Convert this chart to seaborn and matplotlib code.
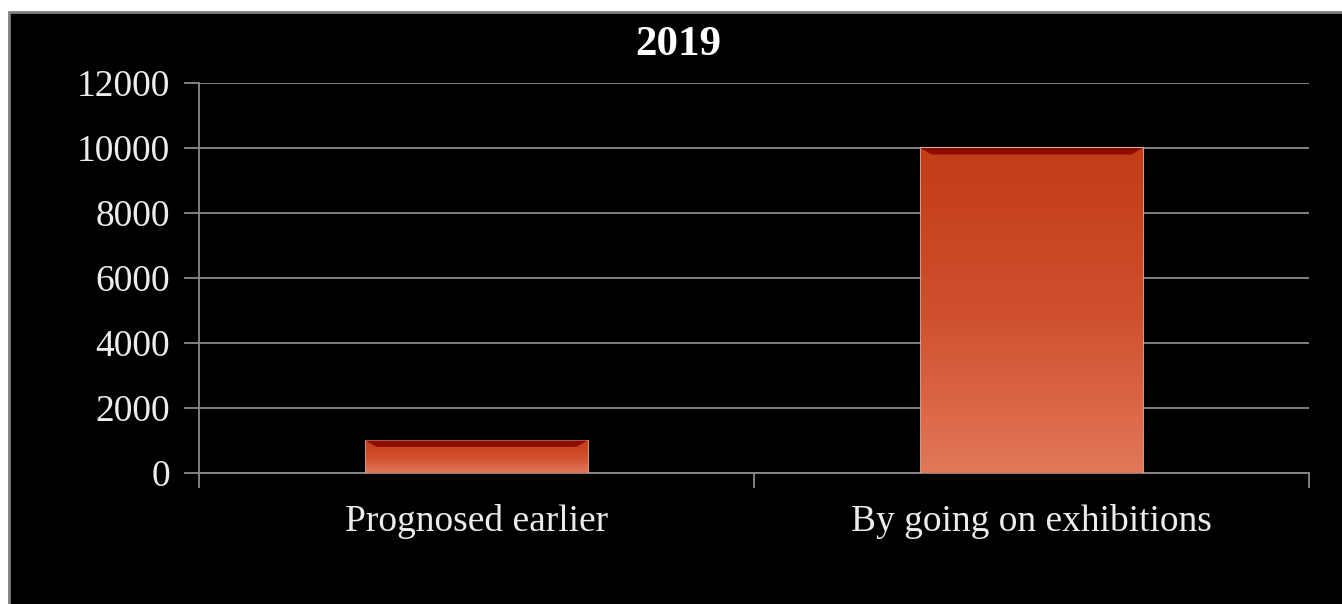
import numpy as np
import pandas as pd
import matplotlib
matplotlib.use("Agg")
import matplotlib.pyplot as plt
import seaborn as sns
from matplotlib.patches import Rectangle
from matplotlib.colors import LinearSegmentedColormap

categories = ["Prognosed earlier", "By going on exhibitions"]
values = [1000, 10000]
yticks = [0, 2000, 4000, 6000, 8000, 10000, 12000]
title = "2019"

sns.set_theme(style="dark")
plt.rcParams["font.family"] = ["Liberation Serif", "DejaVu Serif"]

fig = plt.figure(figsize=(13.42, 6.04), dpi=100)
fig.patch.set_facecolor("white")
# black panel background (extends past right/bottom edges)
fig.patches.append(Rectangle((9 / 1342, -0.05), 1.1, 0.05 + (604 - 12) / 604,
                             transform=fig.transFigure, facecolor="black",
                             edgecolor="#808080", linewidth=2, zorder=-10))

ax = fig.add_axes([199 / 1342, 131 / 604, 1110 / 1342, 390 / 604])
ax.set_facecolor("black")

df = pd.DataFrame({"cat": categories, "val": values})
sns.barplot(data=df, x="cat", y="val", width=0.4, color="#d0502c",
            ax=ax, zorder=3, saturation=1)

# gradient fill + dark top bevel on each bar
cmap = LinearSegmentedColormap.from_list("bar", ["#e2775a", "#cf4f2c", "#c23c18"])
for p in ax.patches:
    x0, y0 = p.get_x(), p.get_y()
    w, h = p.get_width(), p.get_height()
    grad = np.linspace(0, 1, 256).reshape(-1, 1)
    im = ax.imshow(grad, extent=(x0, x0 + w, y0, y0 + h), origin="lower",
                   cmap=cmap, aspect="auto", zorder=3.5)
    im.set_clip_path(p)
    p.set_edgecolor("#f2b9a4")
    p.set_linewidth(1.2)
    bevel = 200  # data units thickness of bevel
    ax.fill([x0, x0 + w, x0 + w - 0.02, x0 + 0.02],
            [y0 + h, y0 + h, y0 + h - bevel, y0 + h - bevel],
            color="#8e0d00", zorder=4, lw=0)

ax.set_xlim(-0.5, 1.5)
ax.set_ylim(0, 12000)
ax.set_yticks(yticks)
ax.set_yticklabels([str(v) for v in yticks])
ax.yaxis.grid(True, color="#8a8a8a", linewidth=1.3, zorder=1)
ax.xaxis.grid(False)

# category ticks: marks at boundaries, labels in centre
ax.set_xticks([-0.5, 0.5, 1.5])
ax.set_xticklabels(["", "", ""])
ax.set_xticks([0, 1], minor=True)
ax.set_xticklabels(categories, minor=True)
ax.tick_params(axis="x", which="major", length=11, width=1.3, color="#8a8a8a",
               direction="out", bottom=True)
ax.tick_params(axis="x", which="minor", length=0, labelsize=27,
               labelcolor="#ececec", pad=22)
ax.tick_params(axis="y", length=11, width=1.3, color="#8a8a8a", direction="out",
               left=True, labelsize=27, labelcolor="#ececec", pad=10)

for s in ["top", "right"]:
    ax.spines[s].set_visible(False)
for s in ["left", "bottom"]:
    ax.spines[s].set_visible(True)
    ax.spines[s].set_color("#8a8a8a")
    ax.spines[s].set_linewidth(1.3)
ax.set_xlabel("")
ax.set_ylabel("")

fig.text(678 / 1342, 1 - 45 / 604, title, color="white", fontsize=31,
         fontweight="bold", ha="center", va="center")

fig.savefig("out.png", dpi=100, facecolor=fig.get_facecolor())
